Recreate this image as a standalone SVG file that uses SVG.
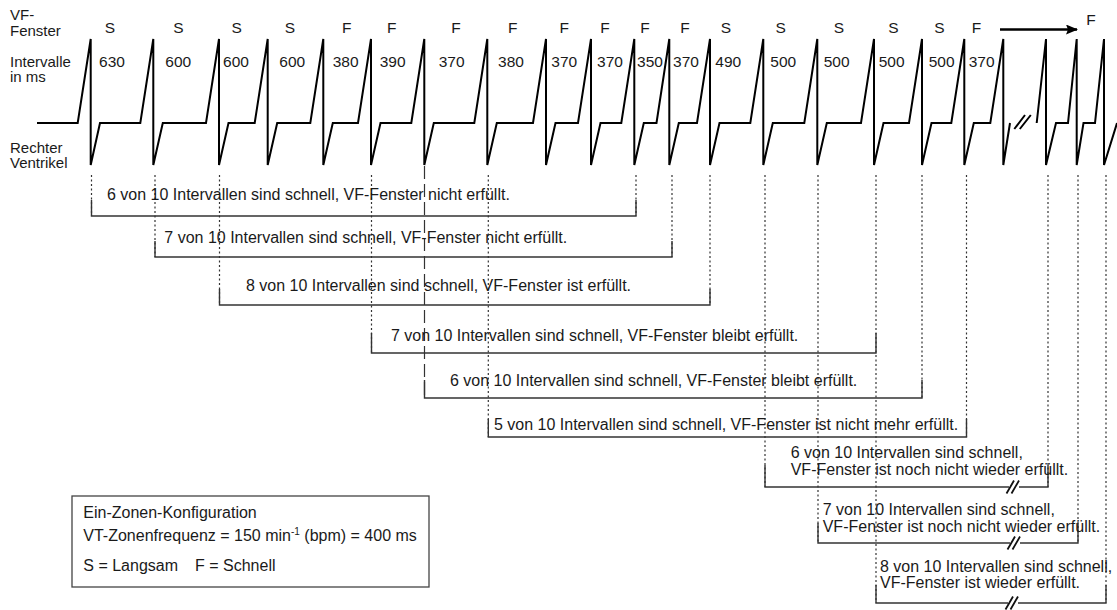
<svg xmlns="http://www.w3.org/2000/svg" width="1117" height="610" viewBox="0 0 1117 610">
<style>
.ecg{fill:none;stroke:#000;stroke-width:2}
.dot{fill:none;stroke:#333;stroke-width:1.2;stroke-dasharray:2 2.5}
.dash{fill:none;stroke:#333;stroke-width:1.2;stroke-dasharray:13 5}
.br{fill:none;stroke:#333;stroke-width:1.4}
.t{font-family:"Liberation Sans",Arial,sans-serif;font-size:16px;fill:#1a1a1a}
.s{font-size:15px}
.n{font-size:15.5px;text-anchor:middle}
.brk{fill:none;stroke:#111;stroke-width:1.8}
</style>
<defs>
<marker id="ah" viewBox="0 0 12 10" refX="11" refY="5" markerWidth="12" markerHeight="10" markerUnits="userSpaceOnUse" orient="auto">
<path d="M0,0 L12,5 L0,10 L2,5 Z" fill="#000"/>
</marker>
<g id="cut">
<rect x="-5" y="-3" width="10" height="6" fill="#fff"/>
<path class="brk" d="M-7.5,6.5 L0,-6.5 M-2.5,6.5 L5,-6.5"/>
</g>
</defs>
<rect width="1117" height="610" fill="#fff"/>

<g id="row-labels" class="t s">
<text x="10" y="20">VF-</text>
<text x="10" y="35.5">Fenster</text>
<text x="10" y="66.5">Intervalle</text>
<text x="10" y="81.5">in ms</text>
<text x="10" y="153">Rechter</text>
<text x="10" y="168">Ventrikel</text>
</g>

<g id="window-class" class="t n">
<text x="110" y="33">S</text>
<text x="178.3" y="33">S</text>
<text x="236.7" y="33">S</text>
<text x="290" y="33">S</text>
<text x="346.7" y="33">F</text>
<text x="391.7" y="33">F</text>
<text x="456" y="33">F</text>
<text x="512.7" y="33">F</text>
<text x="564.3" y="33">F</text>
<text x="605" y="33">F</text>
<text x="645" y="33">F</text>
<text x="685" y="33">F</text>
<text x="726" y="33">S</text>
<text x="780.7" y="33">S</text>
<text x="839" y="33">S</text>
<text x="893.3" y="33">S</text>
<text x="939.3" y="33">S</text>
<text x="976.5" y="33">F</text>
<text x="1091" y="25">F</text>
</g>

<g id="intervals" class="t n">
<text x="112" y="67">630</text>
<text x="178.3" y="67">600</text>
<text x="236" y="67">600</text>
<text x="292.3" y="67">600</text>
<text x="345.7" y="67">380</text>
<text x="392.7" y="67">390</text>
<text x="451.7" y="67">370</text>
<text x="511" y="67">380</text>
<text x="564.3" y="67">370</text>
<text x="610" y="67">370</text>
<text x="650" y="67">350</text>
<text x="686" y="67">370</text>
<text x="728.3" y="67">490</text>
<text x="783.3" y="67">500</text>
<text x="836.7" y="67">500</text>
<text x="891.7" y="67">500</text>
<text x="941.7" y="67">500</text>
<text x="981.7" y="67">370</text>
</g>

<g id="ecg">
<path class="ecg" d="M37,123 H77.7 L90.7,39 V165 L100,123 H140.3 L153.3,39 V165 L162.8,123 H206 L219,39 V165 L228.5,123 H254.7 L267.7,39 V165 L277.2,123 H310.3 L323.3,39 V165 L332.8,123 H358 L371,39 V165 L380.5,123 H411.3 L424.3,39 V165 L433.8,123 H474.3 L487.3,39 V165 L496.8,123 H533 L546,39 V165 L555.5,123 H578 L591,39 V165 L600.5,123 H621.3 L634.3,39 V165 L643.8,123 H656.5 L669.3,39 V165 L678.8,123 H697 L710,39 V165 L719.5,123 H750.3 L763.3,39 V165 L772.8,123 H804.3 L817.3,39 V165 L826.8,123 H861 L874,39 V165 L883.5,123 H909 L922,39 V165 L931.5,123 H951.3 L964.3,39 V165 L973.8,123 H990.3 L1003.3,39 V165 L1010,123"/>
<path class="ecg" d="M1036.7,123 L1046,39 V165 L1056,123 H1068 L1076.7,39 V165 L1083.5,123 H1095 L1104,39 V165 L1117,123"/>
<path class="ecg" d="M1014.3,129 L1025,115 M1019.8,129 L1030.8,115"/>
</g>

<g id="arrow">
<path d="M1000,29.5 H1077" fill="none" stroke="#000" stroke-width="2.5" marker-end="url(#ah)"/>
</g>

<g id="connectors">
<path class="dot" d="M91.5,175 V216 M155,175 V257 M219.5,175 V305 M371.5,175 V353 M488.3,175 V437 M636,175 V216 M672,175 V257 M710,175 V305 M765,175 V487 M818,175 V543 M876,175 V603 M922,175 V398 M966.5,175 V437 M1048,175 V487 M1078,175 V543 M1106,175 V603"/>
<path class="dash" d="M424.5,166 V398"/>
<path class="br" d="M91.5,200 V216 H636 V200"/>
<path class="br" d="M155,241 V257 H672 V241"/>
<path class="br" d="M219.5,289 V305 H710 V289"/>
<path class="br" d="M371.5,333 V353 H876 V333"/>
<path class="br" d="M424.5,380 V398 H922 V380"/>
<path class="br" d="M488.3,419 V437 H966.5 V419"/>
<path class="br" d="M765,465 V487 H1048 V465"/>
<path class="br" d="M818,523 V543 H1078 V523"/>
<path class="br" d="M876,585 V603 H1106 V585"/>
<use href="#cut" x="1014" y="487"/>
<use href="#cut" x="1015" y="543"/>
<use href="#cut" x="1013" y="603"/>
</g>

<g id="w1" class="t"><text x="107" y="200">6 von 10 Intervallen sind schnell, VF-Fenster nicht erfüllt.</text></g>
<g id="w2" class="t"><text x="164.3" y="243">7 von 10 Intervallen sind schnell, VF-Fenster nicht erfüllt.</text></g>
<g id="w3" class="t"><text x="246" y="291">8 von 10 Intervallen sind schnell, VF-Fenster ist erfüllt.</text></g>
<g id="w4" class="t"><text x="391" y="340.5">7 von 10 Intervallen sind schnell, VF-Fenster bleibt erfüllt.</text></g>
<g id="w5" class="t"><text x="450" y="386">6 von 10 Intervallen sind schnell, VF-Fenster bleibt erfüllt.</text></g>
<g id="w6" class="t"><text x="494" y="429.5">5 von 10 Intervallen sind schnell, VF-Fenster ist nicht mehr erfüllt.</text></g>
<g id="w7" class="t"><text x="790.7" y="458.3">6 von 10 Intervallen sind schnell,</text><text x="790.7" y="475.3">VF-Fenster ist noch nicht wieder erfüllt.</text></g>
<g id="w8" class="t"><text x="822.7" y="515">7 von 10 Intervallen sind schnell,</text><text x="822.7" y="531.7">VF-Fenster ist noch nicht wieder erfüllt.</text></g>
<g id="w9" class="t"><text x="880" y="571.7">8 von 10 Intervallen sind schnell,</text><text x="880" y="588">VF-Fenster ist wieder erfüllt.</text></g>

<g id="legend">
<rect x="72" y="496" width="357" height="91" fill="#fff" stroke="#444" stroke-width="1.3"/>
<text class="t" x="83.3" y="518">Ein-Zonen-Konfiguration</text>
<text class="t" x="83.3" y="541">VT-Zonenfrequenz = 150 min<tspan font-size="10" dy="-6">-1</tspan><tspan dy="6"> (bpm) = 400 ms</tspan></text>
<text class="t" x="83.3" y="570.5">S = Langsam</text>
<text class="t" x="195" y="570.5">F = Schnell</text>
</g>
</svg>
